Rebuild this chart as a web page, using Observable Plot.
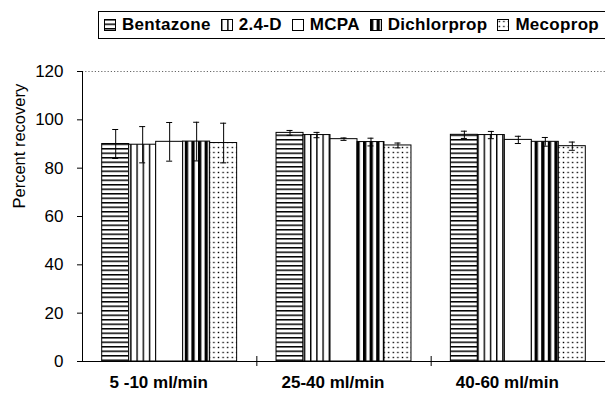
<!DOCTYPE html>
<html>
<head>
<meta charset="utf-8">
<script src="https://cdn.jsdelivr.net/npm/d3@7"></script>
<script src="https://cdn.jsdelivr.net/npm/@observablehq/plot@0.6"></script>
<style>
  html, body { margin: 0; padding: 0; background: white; }
  #wrap { width: 605px; height: 398px; overflow: hidden; position: relative; font-family: "Liberation Sans", Arial, Helvetica, sans-serif; }
  #legendRow { position: relative; height: 40px; }
  #legend { position: absolute; top: 11px; right: -10px; height: 28px; box-sizing: border-box;
            border: 1px solid black; display: flex; align-items: center; gap: 10px;
            padding: 0 15px 0 5px; font-size: 17px; font-weight: bold; letter-spacing: 0.3px; color: black; white-space: nowrap; }
  #legend .item { display: flex; align-items: center; }
  #legend svg { margin-right: 6px; display: block; }
</style>
</head>
<body>
<div id="wrap">
  <div id="legendRow"><div id="legend"></div></div>
  <div id="chart"></div>
</div>
<script>
// ---- data ----
const groups = ["5 -10 ml/min", "25-40 ml/min", "40-60 ml/min"];
const series = ["Bentazone", "2.4-D", "MCPA", "Dichlorprop", "Mecoprop"];
const bentazone   = [90.0, 94.6, 93.8];
const d24         = [89.7, 93.7, 93.7];
const mcpa        = [90.9, 92.0, 91.7];
const dichlorprop = [91.0, 90.8, 90.9];
const mecoprop    = [90.4, 89.4, 89.1];
const bentazoneErr   = [6.0, 1.0, 1.5];
const d24Err         = [7.5, 1.1, 1.5];
const mcpaErr        = [8.0, 0.5, 1.5];
const dichlorpropErr = [8.0, 1.6, 1.8];
const mecopropErr    = [8.2, 1.0, 1.7];
const yTicks = [0, 20, 40, 60, 80, 100, 120];

// ---- styling ----
const fills = {
  "Bentazone": "url(#pat-h)",
  "2.4-D": "url(#pat-v)",
  "MCPA": "white",
  "Dichlorprop": "url(#pat-vv)",
  "Mecoprop": "url(#pat-dot)"
};
const groupPad = 0.113;                       // outer padding inside each group (fraction of group)
const barW = (1 - 2 * groupPad) / series.length;

const valueLists = [bentazone, d24, mcpa, dichlorprop, mecoprop];
const errLists = [bentazoneErr, d24Err, mcpaErr, dichlorpropErr, mecopropErr];
const rows = [];
groups.forEach((g, gi) => series.forEach((s, si) => {
  rows.push({group: g, gi, series: s, si, value: valueLists[si][gi], err: errLists[si][gi]});
}));
const left = d => d.gi + groupPad + d.si * barW;
const mid = d => left(d) + barW / 2;

const chart = Plot.plot({
  width: 605,
  height: 358,
  marginLeft: 82,
  marginRight: 0,
  marginTop: 31,
  marginBottom: 37,
  x: {domain: [0, groups.length], axis: null},
  y: {domain: [0, 120], axis: null},
  color: {type: "identity"},
  style: {fontFamily: "'Liberation Sans', Arial, Helvetica, sans-serif", fontSize: "17px", color: "black", background: "white"},
  marks: [
    Plot.ruleY([120], {stroke: "#666", strokeDasharray: "1.2,2"}),
    Plot.rect(rows, {x1: left, x2: d => left(d) + barW, y1: 0, y2: "value", fill: d => fills[d.series], stroke: "black", strokeWidth: 1}),
    Plot.ruleX(rows, {x: mid, y1: d => d.value - d.err, y2: d => d.value + d.err, stroke: "black", strokeWidth: 1}),
    Plot.ruleY(rows, {x1: mid, x2: mid, y: d => d.value + d.err, insetLeft: -3, insetRight: -3, stroke: "black", strokeWidth: 1}),
    Plot.ruleY(rows, {x1: mid, x2: mid, y: d => d.value - d.err, insetLeft: -3, insetRight: -3, stroke: "black", strokeWidth: 1}),
    Plot.ruleY([0], {stroke: "black"}),
    Plot.ruleX([0], {y1: 0, y2: 120, stroke: "black"}),
    Plot.ruleX(d3.range(1, groups.length), {y1: 0, y2: 0, insetTop: -5, insetBottom: -5, stroke: "black"}),
    Plot.axisY({ticks: yTicks, tickSize: 5, tickPadding: 14, fontSize: 17, label: null}),
    Plot.axisX({ticks: groups.map((g, i) => i + 0.5), tickFormat: t => groups[Math.floor(t)], tickSize: 0, tickPadding: 14, fontSize: 17, fontWeight: "bold", dx: -11, label: null}),
    Plot.text(["Percent recovery"], {frameAnchor: "left", rotate: -90, dx: -63, dy: -8, fontSize: 16.5})
  ]
});

d3.select(chart).insert("defs", ":first-child").html(`
  <pattern id="pat-h" patternUnits="userSpaceOnUse" width="6" height="4.5">
    <rect width="6" height="4.5" fill="white"/><rect width="6" height="1.5" fill="black"/>
  </pattern>
  <pattern id="pat-v" patternUnits="userSpaceOnUse" width="6.2" height="6">
    <rect width="6.2" height="6" fill="white"/><rect width="1.4" height="6" fill="black"/>
  </pattern>
  <pattern id="pat-vv" patternUnits="userSpaceOnUse" width="6.6" height="6">
    <rect width="6.6" height="6" fill="white"/><rect width="3.3" height="6" fill="black"/>
  </pattern>
  <pattern id="pat-dot" patternUnits="userSpaceOnUse" width="4.6" height="5">
    <rect width="4.6" height="5" fill="white"/><rect x="1.6" y="1.8" width="1.4" height="1.4" fill="black"/>
  </pattern>
`);
document.getElementById("chart").appendChild(chart);

// ---- legend ----
const legend = d3.select("#legend");
series.forEach(s => {
  const item = legend.append("span").attr("class", "item");
  const sw = item.append("svg").attr("width", 12).attr("height", 12);
  sw.append("rect").attr("x", 0.5).attr("y", 0.5).attr("width", 11).attr("height", 11)
    .attr("fill", fills[s]).attr("stroke", "black");
  item.append("span").text(s);
});
</script>
</body>
</html>
